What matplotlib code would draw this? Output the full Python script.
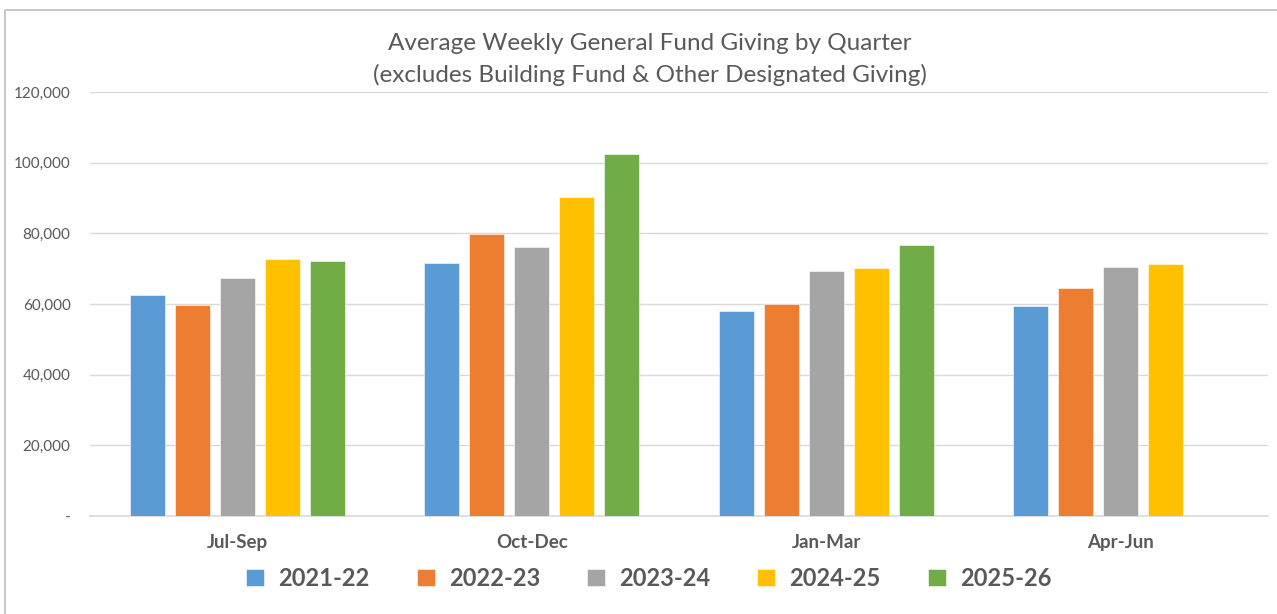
import numpy as np
import matplotlib.pyplot as plt
from matplotlib.patches import Rectangle

plt.rcParams['font.family'] = ['Lato', 'DejaVu Sans']

# DATA
quarters = ['Jul-Sep', 'Oct-Dec', 'Jan-Mar', 'Apr-Jun']
years = ['2021-22', '2022-23', '2023-24', '2024-25', '2025-26']
giving_2021_22 = [62500, 71700, 58000, 59300]
giving_2022_23 = [59700, 79900, 60000, 64600]
giving_2023_24 = [67300, 76200, 69300, 70500]
giving_2024_25 = [72600, 90300, 70200, 71400]
giving_2025_26 = [72100, 102400, 76600, np.nan]
series = [giving_2021_22, giving_2022_23, giving_2023_24, giving_2024_25, giving_2025_26]
colors = ['#5B9BD5', '#ED7D31', '#A5A5A5', '#FFC000', '#70AD47']
yticks = [0, 20000, 40000, 60000, 80000, 100000, 120000]

TEXT = '#595959'
GRID = '#D9D9D9'

fig = plt.figure(figsize=(12.77, 6.14), dpi=100)
ax = fig.add_axes([90/1277, 1-516/614, (1268-90)/1277, (516-92)/614])

# chart frame
fig.patches.append(Rectangle((5/1277, -0.1), 1.2, 1-10/614+0.1, transform=fig.transFigure,
                             fill=False, edgecolor='#BFBFBF', linewidth=1.2))

x = np.arange(len(quarters))
slot = 0.153
width = 0.119
for i, (vals, col, lab) in enumerate(zip(series, colors, years)):
    ax.bar(x + (i - 2) * slot, vals, width, color=col, label=lab,
           edgecolor='white', linewidth=0.4, zorder=3)

ax.set_xlim(-0.5, 3.5)
ax.set_ylim(0, 120000)
ax.set_yticks(yticks)
ax.set_yticklabels(['-' if v == 0 else f'{v:,}' for v in yticks], color=TEXT, fontsize=11)
ax.set_xticks(x)
ax.set_xticklabels(quarters, color=TEXT, fontsize=13.5, fontweight='bold')
ax.tick_params(axis='y', length=0, pad=14)
ax.tick_params(axis='x', length=0, pad=13)
ax.grid(axis='y', color=GRID, linewidth=1, zorder=0)
for s in ['top', 'right', 'left']:
    ax.spines[s].set_visible(False)
ax.spines['bottom'].set_color(GRID)
ax.spines['bottom'].set_linewidth(1.2)

fig.text(0.509, 1-43/614, 'Average Weekly General Fund Giving by Quarter',
         ha='center', va='center', color=TEXT, fontsize=17.5)
fig.text(0.509, 1-75/614, '(excludes Building Fund & Other Designated Giving)',
         ha='center', va='center', color=TEXT, fontsize=17.5)

leg = fig.legend(loc='center', bbox_to_anchor=(0.508, 1-578/614), ncol=5, frameon=False,
                 handlelength=0.75, handleheight=0.75, handletextpad=0.6, columnspacing=2.0,
                 prop={'size': 17, 'weight': 'bold'})
for t in leg.get_texts():
    t.set_color(TEXT)

fig.savefig('out.png', dpi=100)
